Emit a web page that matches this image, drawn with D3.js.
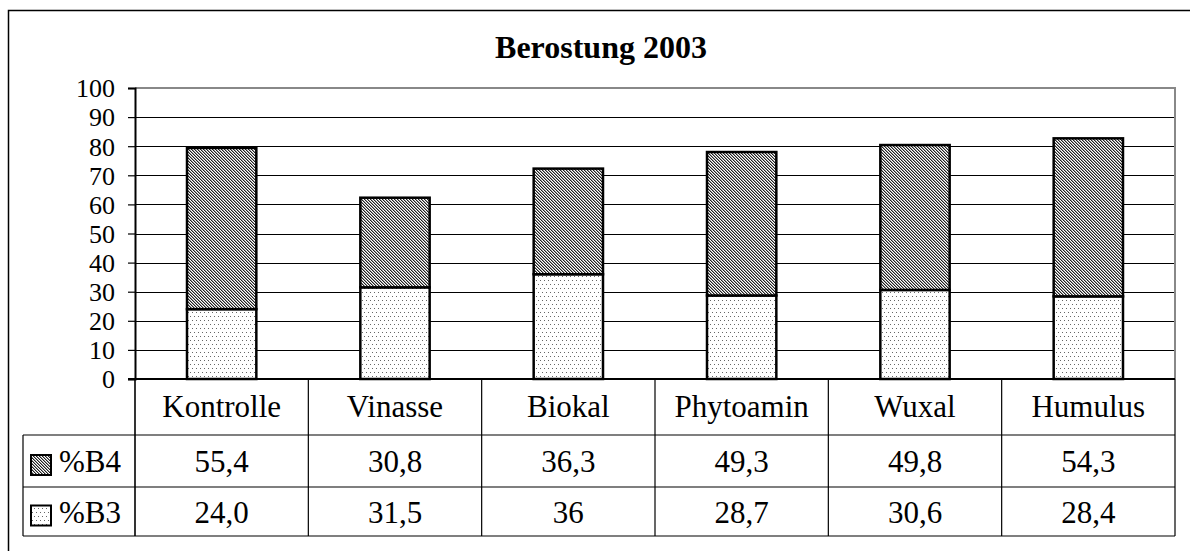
<!DOCTYPE html>
<html>
<head>
<meta charset="utf-8">
<script src="https://cdn.jsdelivr.net/npm/d3@7"></script>
<style>
  html, body { margin: 0; padding: 0; background: #fff; }
  svg { display: block; font-family: "Liberation Serif", "Times New Roman", serif; }
  svg text { font-family: "Liberation Serif", "Times New Roman", serif; }
</style>
</head>
<body>
<svg id="chart" width="1190" height="551"></svg>
<script>
const title = "Berostung 2003";
const categories = ["Kontrolle", "Vinasse", "Biokal", "Phytoamin", "Wuxal", "Humulus"];
const seriesNames = ["%B3", "%B4"];
const b3Values = [24.0, 31.5, 36, 28.7, 30.6, 28.4];
const b4Values = [55.4, 30.8, 36.3, 49.3, 49.8, 54.3];
const b3Labels = ["24,0", "31,5", "36", "28,7", "30,6", "28,4"];
const b4Labels = ["55,4", "30,8", "36,3", "49,3", "49,8", "54,3"];
const yTicks = [0, 10, 20, 30, 40, 50, 60, 70, 80, 90, 100];

(function () {
const svg = d3.select("#chart");

// patterns
const defs = svg.append("defs");
const hatch = defs.append("pattern").attr("id", "hatch")
  .attr("patternUnits", "userSpaceOnUse").attr("width", 3).attr("height", 3);
hatch.append("rect").attr("width", 3).attr("height", 3).attr("fill", "#fff");
[[0,0],[1,1],[2,2]].forEach(([px,py]) => hatch.append("rect").attr("x", px).attr("y", py).attr("width", 1).attr("height", 1).attr("fill", "#222"));
[[1,0],[2,1],[0,2]].forEach(([px,py]) => hatch.append("rect").attr("x", px).attr("y", py).attr("width", 1).attr("height", 1).attr("fill", "#999"));

const dots = defs.append("pattern").attr("id", "dots")
  .attr("patternUnits", "userSpaceOnUse").attr("width", 4).attr("height", 8);
dots.append("rect").attr("width", 4).attr("height", 8).attr("fill", "#fff");
dots.append("rect").attr("x", 0).attr("y", 0).attr("width", 1).attr("height", 1).attr("fill", "#666");
dots.append("rect").attr("x", 2).attr("y", 4).attr("width", 1).attr("height", 1).attr("fill", "#666");

const fills = { "%B3": "url(#dots)", "%B4": "url(#hatch)" };

// outer frame
svg.append("rect").attr("x", 8.5).attr("y", 10.5).attr("width", 1200).attr("height", 600)
  .attr("fill", "none").attr("stroke", "#000").attr("stroke-width", 1.5);

// title
svg.append("text").attr("x", 601).attr("y", 58).attr("text-anchor", "middle")
  .attr("font-size", 32).attr("font-weight", "bold").text(title);

const pLeft = 135, pRight = 1175, pTop = 88, pBottom = 379;
const x = d3.scaleBand().domain(categories).range([pLeft, pRight]).paddingInner(0.6).paddingOuter(0.3);
const xCol = d3.scaleBand().domain(categories).range([pLeft, pRight]).padding(0);
const y = d3.scaleLinear().domain([0, 100]).range([pBottom, pTop]);

// gridlines
svg.append("g").selectAll("line").data(yTicks.filter(t => t > 0 && t < 100)).join("line")
  .attr("x1", pLeft).attr("x2", pRight)
  .attr("y1", d => Math.round(y(d)) + 0.5).attr("y2", d => Math.round(y(d)) + 0.5)
  .attr("stroke", "#000").attr("stroke-width", 1);

// plot border top & right (gray)
svg.append("path")
  .attr("d", `M${pLeft},${y(100)}H${pRight}V${pBottom}`)
  .attr("fill", "none").attr("stroke", "#888").attr("stroke-width", 2);

// stacked bars
const rows = categories.map((c, i) => ({ cat: c, "%B3": b3Values[i], "%B4": b4Values[i] }));
const stacked = d3.stack().keys(seriesNames)(rows);
svg.append("g").selectAll("g").data(stacked).join("g")
  .attr("fill", d => fills[d.key])
  .selectAll("rect").data(d => d).join("rect")
  .attr("x", d => x(d.data.cat))
  .attr("width", x.bandwidth())
  .attr("y", d => y(d[1]))
  .attr("height", d => y(d[0]) - y(d[1]))
  .attr("stroke", "#000").attr("stroke-width", 2.5);

// y axis
const yAxis = d3.axisLeft(y).tickValues(yTicks).tickSize(7).tickPadding(13).tickFormat(d3.format("d"));
const ya = svg.append("g").attr("transform", `translate(${pLeft},0)`).call(yAxis);
ya.attr("font-family", null);
ya.select(".domain").attr("stroke", "#000").attr("stroke-width", 2);
ya.selectAll(".tick line").attr("stroke", "#000").attr("stroke-width", 1.2);
ya.selectAll(".tick text").attr("font-size", 26).attr("fill", "#000").attr("dy", "0.34em");

// data table
const rowTop = 379, row1 = 435, row2 = 487, row3 = 536, legLeft = 23;
const tbl = svg.append("g").attr("stroke", "#000").attr("stroke-width", 1.2);
tbl.selectAll("line.v").data(categories).join("line")
  .attr("x1", d => xCol(d) + xCol.bandwidth()).attr("x2", d => xCol(d) + xCol.bandwidth())
  .attr("y1", rowTop).attr("y2", row3);
tbl.append("line").attr("x1", pLeft).attr("x2", pLeft).attr("y1", rowTop).attr("y2", row3).attr("stroke-width", 1.6);
tbl.append("line").attr("x1", legLeft).attr("x2", legLeft).attr("y1", row1).attr("y2", row3);
[row1, row2, row3].forEach(yy => tbl.append("line").attr("x1", legLeft).attr("x2", pRight).attr("y1", yy).attr("y2", yy));
// x axis line
svg.append("line").attr("x1", pLeft - 7).attr("x2", pRight).attr("y1", pBottom).attr("y2", pBottom)
  .attr("stroke", "#000").attr("stroke-width", 2);

// category labels
svg.append("g").selectAll("text").data(categories).join("text")
  .attr("x", d => xCol(d) + xCol.bandwidth() / 2).attr("y", (rowTop + row1) / 2 + 10)
  .attr("text-anchor", "middle").attr("font-size", 31).text(d => d);

// value rows
const tableRows = [
  { name: "%B4", labels: b4Labels, y0: row1, y1: row2 },
  { name: "%B3", labels: b3Labels, y0: row2, y1: row3 }
];
tableRows.forEach(r => {
  const cy = (r.y0 + r.y1) / 2;
  svg.append("g").selectAll("text").data(categories).join("text")
    .attr("x", d => xCol(d) + xCol.bandwidth() / 2).attr("y", cy + 11)
    .attr("text-anchor", "middle").attr("font-size", 31)
    .text((d, i) => r.labels[i]);
  svg.append("rect").attr("x", 31).attr("y", cy - 6).attr("width", 20).attr("height", 20)
    .attr("fill", fills[r.name]).attr("stroke", "#000").attr("stroke-width", 2);
  svg.append("text").attr("x", 59).attr("y", cy + 11).attr("font-size", 31).text(r.name);
});
})();
</script>
</body>
</html>
